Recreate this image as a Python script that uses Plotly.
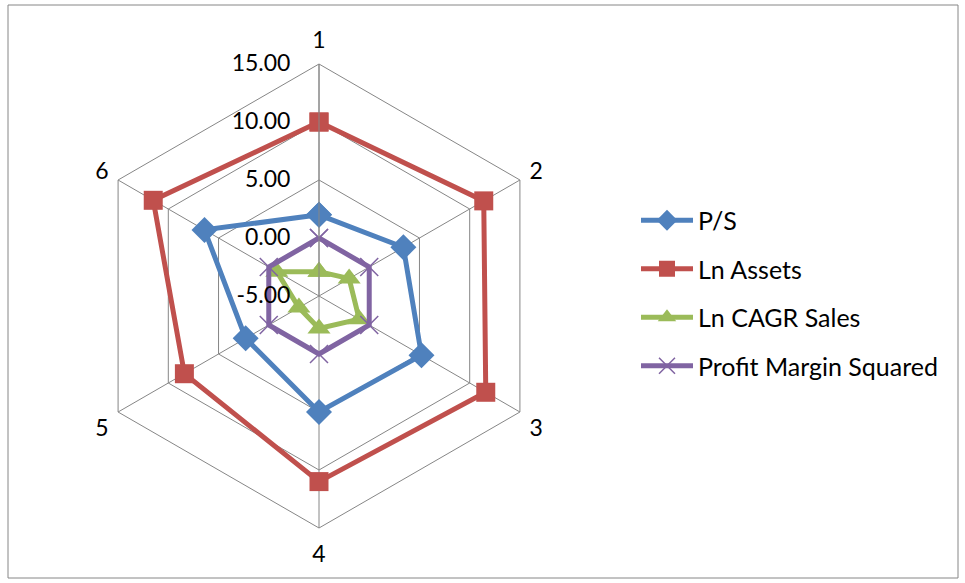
import plotly.graph_objects as go

categories = ["1", "2", "3", "4", "5", "6"]
ps = [2.0, 3.4, 5.2, 5.0, 2.3, 6.4]
ln_assets = [10.0, 11.4, 11.6, 11.0, 8.4, 11.5]
ln_cagr = [-2.9, -2.0, -1.0, -2.2, -3.0, -0.8]
pm_sq = [0.0, 0.0, 0.0, 0.0, 0.0, 0.0]
radial_ticks = [-5, 0, 5, 10, 15]

# Plotly hides markers inside a negative-minimum hexagon (gridshape="linear"),
# so the radial axis is drawn from 0 with the true values shown as tick text.
RMIN, RMAX = radial_ticks[0], radial_ticks[-1]

series = [
    ("P/S", ps, "#4F81BD", "diamond", 20, 0, 5),
    ("Ln Assets", ln_assets, "#C0504D", "square", 19, 0, 5),
    ("Ln CAGR Sales", ln_cagr, "#9BBB59", "triangle-up", 20, 0, 5),
    ("Profit Margin Squared", pm_sq, "#8064A2", "x-thin", 18, 1.5, 5),
]

fig = go.Figure()
for i, (name, vals, color, sym, size, lw, width) in enumerate(series):
    rr = [v - RMIN for v in vals]
    fig.add_trace(go.Scatterpolar(
        r=rr + [rr[0]],
        theta=categories + [categories[0]],
        mode="lines+markers",
        name=name,
        legendgroup=name,
        line=dict(color=color, width=width),
        marker=dict(symbol=sym, size=size, color=color,
                    line=dict(color=color, width=lw)),
    ))

W, H = 965, 583
cx, cy, R = 319, 296, 232
fig.update_layout(
    width=W, height=H,
    margin=dict(l=0, r=0, t=0, b=0),
    paper_bgcolor="white",
    plot_bgcolor="white",
    font=dict(family="Lato, Carlito, Liberation Sans, sans-serif", size=23, color="black"),
    polar=dict(
        domain=dict(x=[(cx - R) / W, (cx + R) / W], y=[1 - (cy + R) / H, 1 - (cy - R) / H]),
        gridshape="linear",
        bgcolor="white",
        angularaxis=dict(
            rotation=90, direction="clockwise",
            categoryorder="array", categoryarray=categories,
            showline=True, linecolor="#868686", linewidth=1,
            gridcolor="#868686", gridwidth=1,
            ticks="outside", ticklen=6, tickcolor="rgba(0,0,0,0)",
            tickfont=dict(size=23),
        ),
        radialaxis=dict(
            range=[0, RMAX - RMIN],
            tickvals=[t - RMIN for t in radial_ticks],
            ticktext=[f"{t:.2f}" for t in radial_ticks],
            angle=90, tickangle=90, side="counterclockwise",
            showline=True, linecolor="#868686", linewidth=1,
            gridcolor="#868686", gridwidth=1,
            ticks="outside", ticklen=20, tickcolor="rgba(0,0,0,0)",
            tickfont=dict(size=23),
        ),
    ),
    legend=dict(
        x=636 / W, y=1 - 293 / H, xanchor="left", yanchor="middle",
        font=dict(size=25), tracegroupgap=13, itemwidth=52,
        bgcolor="rgba(0,0,0,0)",
    ),
    shapes=[dict(type="rect", xref="paper", yref="paper",
                 x0=8 / W, x1=958 / W, y0=1 - 578 / H, y1=1 - 5 / H,
                 line=dict(color="#868686", width=1))],
)

fig.write_html("out.html")
